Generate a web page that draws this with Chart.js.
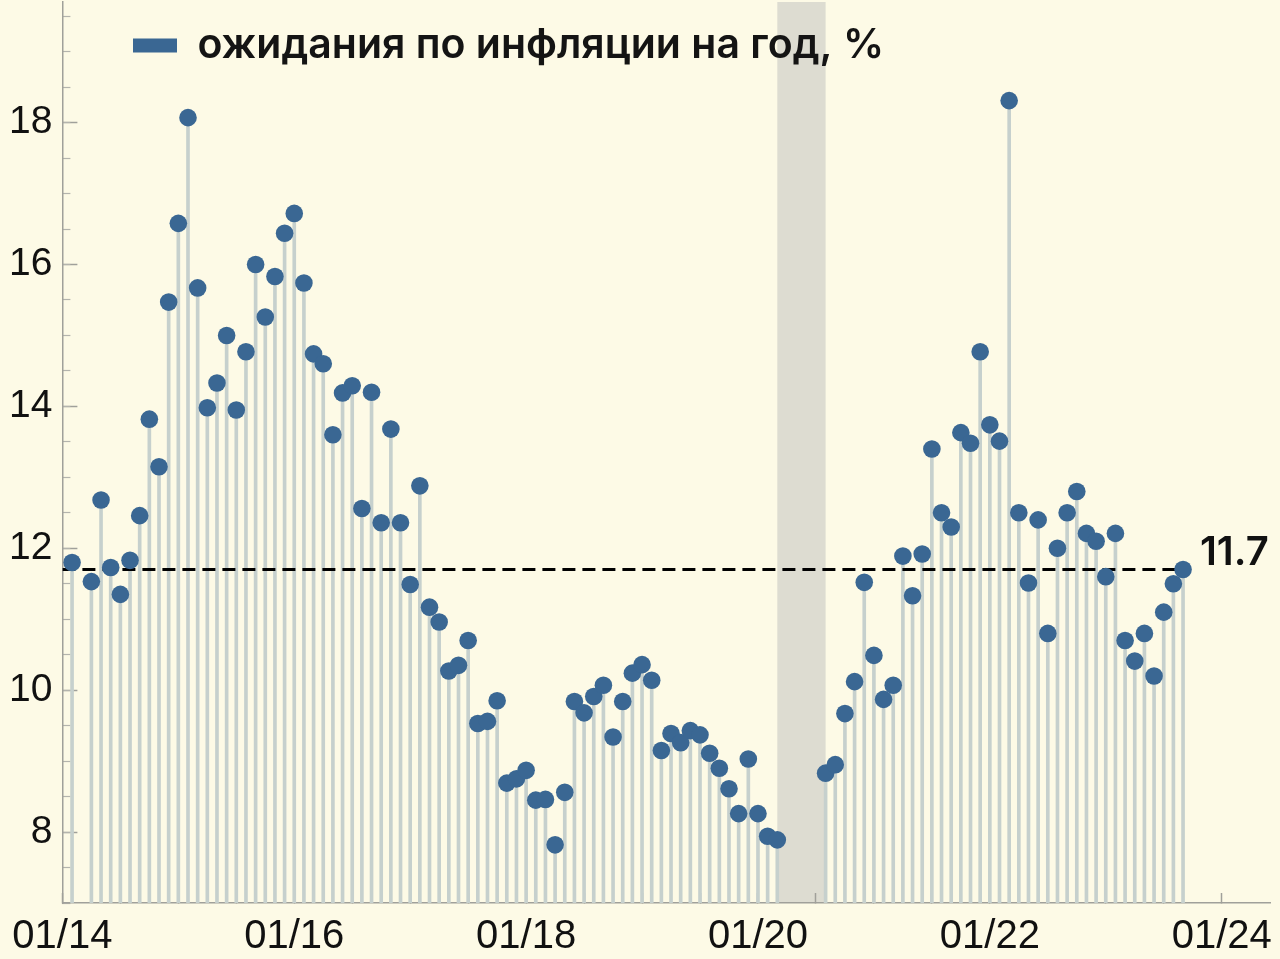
<!DOCTYPE html>
<html><head><meta charset="utf-8">
<script src="https://cdn.jsdelivr.net/npm/chart.js@4.4.1/dist/chart.umd.min.js"></script>
<style>html,body{margin:0;padding:0;background:#fdfae6;}canvas{display:block;}</style>
</head><body>
<canvas id="c" width="1280" height="959"></canvas>
<script>
// months counted from January 2014 (0 = 01/14)
const months = [1,3,4,5,6,7,8,9,10,11,12,13,14,15,16,17,18,19,20,21,22,23,24,25,26,27,28,29,30,31,32,33,34,35,36,37,38,39,40,41,42,43,44,45,46,47,48,49,50,51,52,53,54,55,56,57,58,59,60,61,62,63,64,65,66,67,68,69,70,71,72,73,74,79,80,81,82,83,84,85,86,87,88,89,90,91,92,93,94,95,96,97,98,99,100,101,102,103,104,105,106,107,108,109,110,111,112,113,114,115,116];
const expectations = [11.80,11.53,12.68,11.73,11.35,11.83,12.46,13.82,13.15,15.47,16.58,18.07,15.67,13.98,14.33,15.00,13.95,14.77,16.00,15.26,15.83,16.44,16.72,15.74,14.74,14.60,13.60,14.19,14.29,12.56,14.20,12.36,13.68,12.36,11.49,12.88,11.17,10.96,10.27,10.35,10.70,9.53,9.56,9.85,8.69,8.75,8.87,8.45,8.46,7.82,8.56,9.84,9.68,9.91,10.07,9.34,9.84,10.24,10.36,10.14,9.15,9.39,9.26,9.43,9.37,9.11,8.90,8.61,8.26,9.03,8.26,7.94,7.89,8.83,8.95,9.67,10.12,11.52,10.49,9.87,10.07,11.89,11.33,11.92,13.40,12.50,12.30,13.63,13.48,14.77,13.74,13.51,18.31,12.50,11.51,12.40,10.80,12.00,12.50,12.80,12.21,12.10,11.60,12.21,10.70,10.41,10.80,10.20,11.10,11.50,11.70];
const avgLevel = 11.7;
const avgSpan = [0, 116.3];
const shadedSpan = [74, 79];
const xTickMonths = [0,6,12,18,24,30,36,42,48,54,60,66,72,78,84,90,96,102,108,114,120];
const xLabelMonths = [0,24,48,72,96,120];
const xTickLabels = ['01/14','01/16','01/18','01/20','01/22','01/24'];
const yLabelValues = [8,10,12,14,16,18];
const yMinorTicks = [7,7.5,8,8.5,9,9.5,10,10.5,11,11.5,12,12.5,13,13.5,14,14.5,15,15.5,16,16.5,17,17.5,18,18.5,19,19.5];
const legendLabel = 'ожидания по инфляции на год, %';

const DOT = '#3a6793', STEM = '#c6d0cd', AXIS = '#a0a09a', BAND = '#dddcd1';
const Y_MIN = 7, Y_MAX = 19.7, X_MIN = 0, X_MAX = 125;

const bandPlugin = {
  id: 'band',
  beforeDraw(chart) {
    const {ctx, chartArea, scales} = chart;
    const x0 = scales.x.getPixelForValue(shadedSpan[0]);
    const x1 = scales.x.getPixelForValue(shadedSpan[1]);
    ctx.save();
    ctx.fillStyle = BAND;
    ctx.fillRect(x0, chartArea.top, x1 - x0, chartArea.bottom - chartArea.top);
    ctx.restore();
  }
};
const legendPos = {
  id: 'legendPos',
  afterLayout(chart) {
    const lg = chart.legend; if (!lg) return;
    const p = lg.options.labels.padding;
    const w = lg.right - lg.left, h = lg.bottom - lg.top;
    lg.left = 133 - p; lg.right = lg.left + Math.max(w, 900);
    lg.top = 25 - p; lg.bottom = lg.top + Math.max(h, 70);
    lg.width = lg.right - lg.left; lg.height = lg.bottom - lg.top;
  }
};
const avgLabel = {
  id: 'avgLabel',
  afterDatasetsDraw(chart) {
    const {ctx, scales} = chart;
    const x = scales.x.getPixelForValue(avgSpan[1]) + 14;
    const y = scales.y.getPixelForValue(avgLevel) - 5;
    ctx.save();
    ctx.font = '600 40px Inter, "Liberation Sans", sans-serif';
    ctx.fillStyle = '#111';
    ctx.textAlign = 'left';
    ctx.textBaseline = 'alphabetic';
    ctx.fillText(String(avgLevel), x, y);
    ctx.restore();
  }
};

const points = months.map((m, i) => ({x: m, y: expectations[i]}));

new Chart(document.getElementById('c'), {
  type: 'scatter',
  data: {
    datasets: [
      {
        type: 'scatter', label: legendLabel, data: points, order: 0,
        backgroundColor: DOT, borderColor: DOT, borderWidth: 0,
        pointRadius: 8.8, pointBorderWidth: 0, pointBackgroundColor: DOT
      },
      {
        type: 'line', label: 'avg', order: 1,
        data: [{x: avgSpan[0], y: avgLevel}, {x: avgSpan[1], y: avgLevel}],
        borderColor: '#000', borderWidth: 3, borderDash: [13, 7], pointRadius: 0, fill: false
      },
      {
        type: 'bar', label: 'stems', order: 2, data: points,
        backgroundColor: STEM, borderWidth: 0, barThickness: 3, base: Y_MIN
      }
    ]
  },
  options: {
    responsive: false, animation: false, devicePixelRatio: 1, events: [],
    layout: {autoPadding: false, padding: {top: 2, right: 10, left: 0, bottom: 0}},
    scales: {
      x: {
        type: 'linear', min: X_MIN, max: X_MAX, offset: false, position: 'bottom',
        afterFit(s) { s.height = 56; s.paddingLeft = 0; s.paddingRight = 0; },
        afterBuildTicks(s) { s.ticks = xTickMonths.map(v => ({value: v})); },
        ticks: {
          autoSkip: false, maxRotation: 0, padding: 20, color: '#111',
          font: {family: '"Liberation Sans", Arial, sans-serif', size: 40},
          callback(v) { const i = xLabelMonths.indexOf(v); return i >= 0 ? xTickLabels[i] : ''; }
        },
        grid: {drawOnChartArea: false, offset: false, tickLength: -10, tickColor: AXIS, tickWidth: 1.5},
        border: {display: true, color: AXIS, width: 1.5}
      },
      yMajor: {
        type: 'linear', min: Y_MIN, max: Y_MAX, position: 'left', weight: 1,
        afterFit(s) { s.width = 62.4; s.paddingTop = 0; s.paddingBottom = 0; },
        afterBuildTicks(s) { s.ticks = yLabelValues.map(v => ({value: v})); },
        ticks: {
          padding: 25, color: '#111',
          font: {family: '"Liberation Sans", Arial, sans-serif', size: 39},
          callback(v) { return String(v); }
        },
        grid: {drawOnChartArea: false, tickLength: -15, tickColor: AXIS, tickWidth: 1.5},
        border: {display: true, color: AXIS, width: 1.5}
      },
      y: {
        type: 'linear', min: Y_MIN, max: Y_MAX, position: 'left', weight: 0,
        afterFit(s) { s.width = 0; s.paddingTop = 0; s.paddingBottom = 0; },
        afterBuildTicks(s) { s.ticks = yMinorTicks.map(v => ({value: v})); },
        ticks: {display: false},
        grid: {drawOnChartArea: false, tickLength: -8, tickColor: '#b4b4ad', tickWidth: 1.2},
        border: {display: false}
      }
    },
    plugins: {
      legend: {
        display: true, position: 'chartArea', align: 'start',
        labels: {
          boxWidth: 44, boxHeight: 14, padding: 10, color: '#141414',
          font: {family: 'Inter, "Open Sans", sans-serif', size: 41, weight: '600'},
          filter: (item) => item.datasetIndex === 0
        }
      },
      tooltip: {enabled: false}
    }
  },
  plugins: [bandPlugin, legendPos, avgLabel]
});
</script>
</body></html>
